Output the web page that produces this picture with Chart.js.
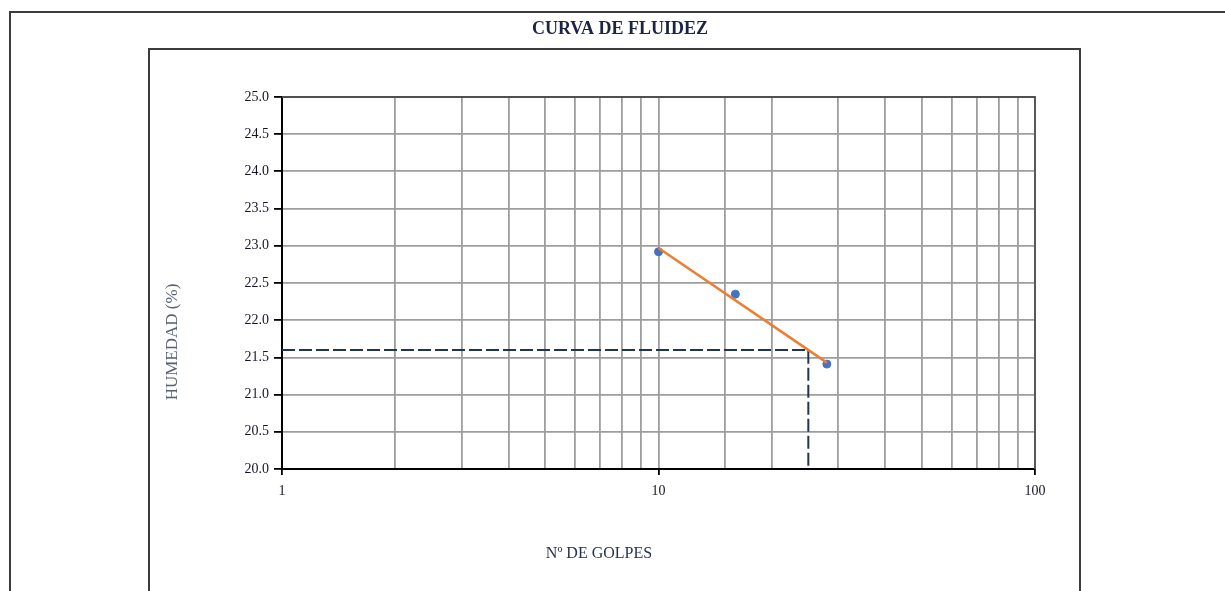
<!DOCTYPE html>
<html>
<head>
<meta charset="utf-8">
<title>CURVA DE FLUIDEZ</title>
<style>
*{padding:0;margin:0;box-sizing:border-box}
html, body {background:#ffffff; overflow:hidden}
#wrap {position:relative; width:1225px; height:591px}
</style>
</head>
<body>
<div id="wrap">
<canvas id="myChart" width="1225" height="591"></canvas>
</div>
<script src="https://cdn.jsdelivr.net/npm/chart.js"></script>
<script>
// ensayo de límite líquido: golpes vs humedad
const golpes = [10, 16, 28];
const humedad = [22.92, 22.35, 21.41];

// recta de ajuste (extremos)
const ajusteGolpes = [10, 28];
const ajusteHumedad = [22.97, 21.43];

// lectura a 25 golpes
const guiaGolpes = [1, 25, 25];
const guiaHumedad = [21.6, 21.6, 20.0];

const yMin = 20, yMax = 25, yStep = 0.5;
const xLabels = [1, 10, 100];

const toPoints = (xs, ys) => xs.map((x, i) => ({ x: x, y: ys[i] }));

const serif = "'Liberation Serif', 'DejaVu Serif', serif";

const framePlugin = {
  id: 'frame',
  beforeDraw(chart) {
    const c = chart.ctx;
    c.save();
    c.fillStyle = '#ffffff';
    c.fillRect(0, 0, chart.width, chart.height);
    // marco exterior y marco del gráfico
    c.strokeStyle = '#3c3c3c';
    c.lineWidth = 2;
    c.beginPath();
    c.moveTo(10, 600); c.lineTo(10, 12); c.lineTo(1240, 12);
    c.stroke();
    c.beginPath();
    c.moveTo(149, 600); c.lineTo(149, 49); c.lineTo(1080, 49); c.lineTo(1080, 600);
    c.stroke();
    c.restore();
  },
  afterDraw(chart) {
    const c = chart.ctx;
    const a = chart.chartArea;
    c.save();
    c.strokeStyle = '#505050';
    c.lineWidth = 1.8;
    c.beginPath();
    c.moveTo(a.left, a.top); c.lineTo(a.right, a.top); c.lineTo(a.right, a.bottom);
    c.stroke();

    c.textAlign = 'center';
    c.textBaseline = 'middle';
    c.fillStyle = '#1c2444';
    c.font = 'bold 18px ' + serif;
    c.fillText('CURVA DE FLUIDEZ', 620, 29);

    c.fillStyle = '#263050';
    c.font = '16px ' + serif;
    c.fillText('Nº DE GOLPES', 599, 554);

    c.fillStyle = '#566077';
    c.font = '17px ' + serif;
    c.translate(173, 342);
    c.rotate(-Math.PI / 2);
    c.fillText('HUMEDAD (%)', 0, 0);
    c.restore();
  }
};

const ctx = document.getElementById('myChart').getContext('2d');
Chart.defaults.font.family = serif;
Chart.defaults.color = '#15152a';

const myChart = new Chart(ctx, {
  type: 'scatter',
  data: {
    datasets: [
      {
        label: 'ajuste',
        data: toPoints(ajusteGolpes, ajusteHumedad),
        showLine: true,
        borderColor: '#ED7D31',
        borderWidth: 2.5,
        pointRadius: 0,
        order: 0,
      },
      {
        label: 'ensayo',
        data: toPoints(golpes, humedad),
        showLine: false,
        pointRadius: 4,
        pointBackgroundColor: '#4472C4',
        pointBorderColor: '#4472C4',
        order: 1,
      },
      {
        label: '25 golpes',
        data: toPoints(guiaGolpes, guiaHumedad),
        showLine: true,
        borderColor: '#1F3550',
        borderWidth: 2,
        borderDash: [13, 4],
        pointRadius: 0,
        order: 2,
      },
    ],
  },
  options: {
    responsive: false,
    animation: false,
    events: [],
    layout: {
      padding: { left: 0, right: 190, top: 97, bottom: 0 },
    },
    plugins: {
      legend: { display: false },
      tooltip: { enabled: false },
      title: { display: false },
    },
    scales: {
      x: {
        type: 'logarithmic',
        min: 1,
        max: 100,
        afterFit: (scale) => { scale.height = 122; },
        grid: {
          color: '#9e9e9e',
          lineWidth: 1.8,
          tickLength: 6,
          tickColor: (c) => (c.tick && xLabels.includes(c.tick.value)) ? '#000000' : 'rgba(0,0,0,0)',
        },
        border: { display: true, color: '#000000', width: 2 },
        ticks: {
          autoSkip: false,
          maxRotation: 0,
          padding: 8,
          font: { size: 14 },
          callback: (value) => xLabels.includes(value) ? String(value) : '',
        },
      },
      y: {
        min: yMin,
        max: yMax,
        afterFit: (scale) => { scale.width = 282; },
        grid: {
          color: '#9e9e9e',
          lineWidth: 1.8,
          tickLength: 8,
          tickColor: '#000000',
        },
        border: { display: true, color: '#000000', width: 2 },
        ticks: {
          stepSize: yStep,
          padding: 5,
          font: { size: 14 },
          callback: (value) => value.toFixed(1),
        },
      },
    },
  },
  plugins: [framePlugin],
});
</script>
</body>
</html>
